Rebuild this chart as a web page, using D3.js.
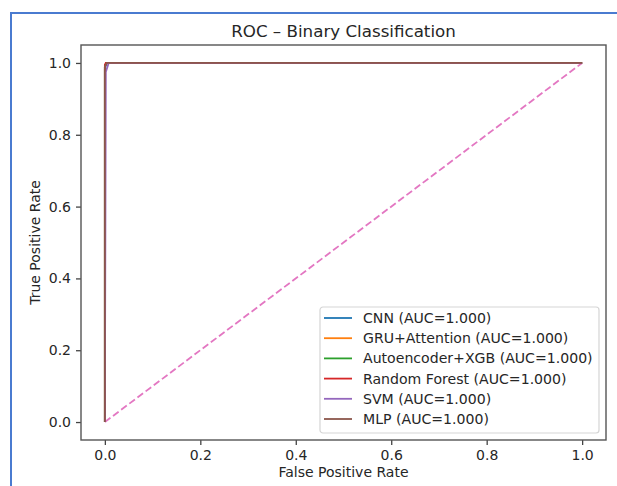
<!DOCTYPE html>
<html>
<head>
<meta charset="utf-8">
<script src="https://cdn.jsdelivr.net/npm/d3@7"></script>
<style>
  body { margin: 0; background: #fff; }
  text { font-family: "DejaVu Sans", sans-serif; fill: #262626; }
</style>
</head>
<body>
<div id="chart"></div>
<script>
// model names and their roc points
var models = ["CNN", "GRU+Attention", "Autoencoder+XGB", "Random Forest", "SVM", "MLP"];
var aucs = [1.000, 1.000, 1.000, 1.000, 1.000, 1.000];
var fprs = [
  [0, 0, 0.004, 1],
  [0, 0, 0.003, 1],
  [0, 0, 0.003, 1],
  [0, 0, 0.002, 1],
  [0, 0.002, 0.008, 1],
  [0, 0, 0.004, 1]
];
var tprs = [
  [0, 0.985, 1, 1],
  [0, 0.99, 1, 1],
  [0, 0.99, 1, 1],
  [0, 0.995, 1, 1],
  [0, 0.975, 1, 1],
  [0, 0.99, 1, 1]
];
var colors = ["#1f77b4", "#ff7f0e", "#2ca02c", "#d62728", "#9467bd", "#8c564b"];
var xTicks = [0, 0.2, 0.4, 0.6, 0.8, 1.0];
var yTicks = [0, 0.2, 0.4, 0.6, 0.8, 1.0];

var svgWidth = 617;
var svgHeight = 486;

var margin = {top: 45, right: 11, bottom: 46, left: 81};
var width = svgWidth - margin.left - margin.right;
var height = svgHeight - margin.top - margin.bottom;

var svg = d3.select("#chart")
  .append("svg")
  .attr("width", svgWidth)
  .attr("height", svgHeight);

// blue frame of the screenshot
svg.append("path")
  .attr("d", "M11,486 L11,13 L617,13")
  .attr("fill", "none")
  .attr("stroke", "#4a7bd0")
  .attr("stroke-width", 2);

var chartGroup = svg.append("g")
  .attr("transform", `translate(${margin.left}, ${margin.top})`);

// scales, with matplotlib's 5% padding
var xScale = d3.scaleLinear().domain([-0.05, 1.05]).range([0, width]);
var yScale = d3.scaleLinear().domain([-0.05, 1.05]).range([height, 0]);

// axes
var bottomAxis = d3.axisBottom(xScale).tickValues(xTicks).tickFormat(d3.format(".1f"))
  .tickSize(5).tickPadding(5);
var leftAxis = d3.axisLeft(yScale).tickValues(yTicks).tickFormat(d3.format(".1f"))
  .tickSize(5).tickPadding(5);

var xAxis = chartGroup.append("g")
  .attr("transform", `translate(0, ${height})`)
  .call(bottomAxis);
var yAxis = chartGroup.append("g")
  .call(leftAxis);

[xAxis, yAxis].forEach(a => {
  a.select(".domain").remove();
  a.selectAll("line").attr("stroke", "#444").attr("stroke-width", 1.3);
  a.selectAll("text").style("font-size", "14px").attr("fill", "#333");
});

// diagonal reference
var line = d3.line().x(d => xScale(d[0])).y(d => yScale(d[1]));

chartGroup.append("path")
  .datum([[0, 0], [1, 1]])
  .attr("d", line)
  .attr("fill", "none")
  .attr("stroke", "#e377c2")
  .attr("stroke-width", 1.8)
  .attr("stroke-dasharray", "7,3.2");

// roc curves
models.forEach((m, i) => {
  var pts = fprs[i].map((f, j) => [f, tprs[i][j]]);
  chartGroup.append("path")
    .datum(pts)
    .attr("d", line)
    .attr("fill", "none")
    .attr("stroke", colors[i])
    .attr("stroke-width", 1.8);
});

// spines
chartGroup.append("rect")
  .attr("width", width)
  .attr("height", height)
  .attr("fill", "none")
  .attr("stroke", "#555")
  .attr("stroke-width", 1.4);

// title and axis labels
svg.append("text")
  .attr("x", margin.left + width / 2)
  .attr("y", 37)
  .attr("text-anchor", "middle")
  .style("font-size", "16.7px")
  .text("ROC \u2013 Binary Classification");

svg.append("text")
  .attr("x", margin.left + width / 2)
  .attr("y", 477)
  .attr("text-anchor", "middle")
  .style("font-size", "14px")
  .text("False Positive Rate");

svg.append("text")
  .attr("transform", `translate(40, ${margin.top + height / 2}) rotate(-90)`)
  .attr("text-anchor", "middle")
  .style("font-size", "14px")
  .text("True Positive Rate");

// legend, lower right
var legW = 279, legH = 126;
var legend = chartGroup.append("g")
  .attr("transform", `translate(${width - 7 - legW}, ${height - 7 - legH})`);

legend.append("rect")
  .attr("width", legW)
  .attr("height", legH)
  .attr("rx", 3)
  .attr("fill", "#fff")
  .attr("fill-opacity", 0.8)
  .attr("stroke", "#d5d5d5")
  .attr("stroke-width", 1.2);

models.forEach((m, i) => {
  var cy = 11 + i * 20.2;
  legend.append("line")
    .attr("x1", 4).attr("x2", 32)
    .attr("y1", cy).attr("y2", cy)
    .attr("stroke", colors[i])
    .attr("stroke-width", 1.8);
  legend.append("text")
    .attr("x", 43)
    .attr("y", cy)
    .attr("dy", "0.35em")
    .style("font-size", "14.1px")
    .text(`${m} (AUC=${aucs[i].toFixed(3)})`);
});
</script>
</body>
</html>
